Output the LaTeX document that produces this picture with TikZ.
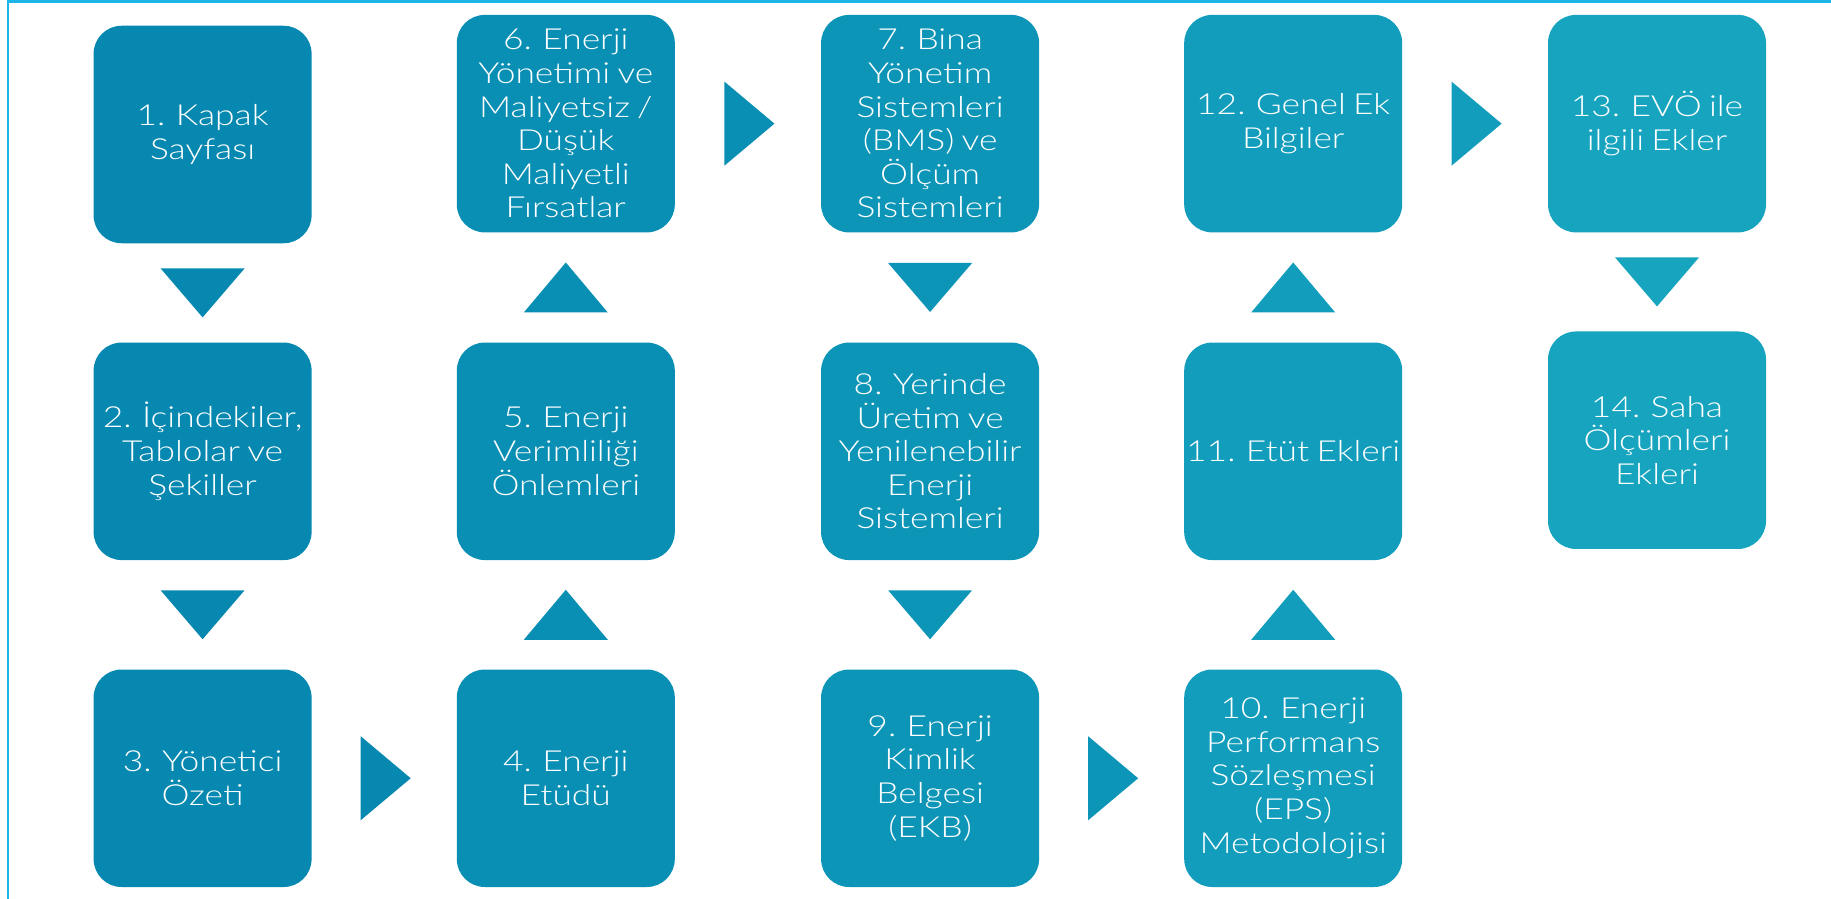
\documentclass[tikz,border=0pt]{standalone}
\usepackage{fontspec}
\setmainfont{Lato}[UprightFont={* Light}, FakeStretch=1.22, WordSpace=0.75]
\usetikzlibrary{calc}

\definecolor{cA}{HTML}{0788B0}
\definecolor{cB}{HTML}{098EB4}
\definecolor{cC}{HTML}{0D95B8}
\definecolor{cD}{HTML}{129DBC}
\definecolor{cE}{HTML}{17A4BF}
\definecolor{frame}{HTML}{1BB5EA}

\tikzset{
  card/.style={rectangle, rounded corners=14pt, fill=#1, text=white,
    minimum width=109pt, minimum height=108.75pt, inner sep=0pt,
    align=center, font=\fontsize{14.5}{16.8}\selectfont},
  tri/.style={fill=#1},
}

\begin{document}
\begin{tikzpicture}[x=0.5pt,y=-0.5pt]
\useasboundingbox (0,0) rectangle (1831,899);
\begin{scope}
  \clip (0,0) rectangle (1831,899);
  \draw[frame, line width=1.3pt] (8,1.8) rectangle (1900,1000);
\end{scope}

% column 1
\node[card=cA] (n1)  at (202.6,134.5) {1. Kapak\\Sayfası};
\node[card=cA] (n2)  at (202.6,451.3) {2. İçindekiler,\\Tablolar ve\\Şekiller};
\node[card=cA] (n3)  at (202.6,778.25) {3. Yönetici\\Özeti};
% column 2
\node[card=cB] (n4)  at (565.8,778.25) {4. Enerji\\Etüdü};
\node[card=cB] (n5)  at (565.8,451.3) {5. Enerji\\Verimliliği\\Önlemleri};
\node[card=cB] (n6)  at (565.8,123.65) {6. Enerji\\Yönetimi ve\\Maliyetsiz /\\Düşük\\Maliyetli\\Fırsatlar};
% column 3
\node[card=cC] (n7)  at (930.1,123.65) {7. Bina\\Yönetim\\Sistemleri\\(BMS) ve\\Ölçüm\\Sistemleri};
\node[card=cC] (n8)  at (930.1,451.3) {8. Yerinde\\Üretim ve\\Yenilenebilir\\Enerji\\Sistemleri};
\node[card=cC] (n9)  at (930.1,778.25) {9. Enerji\\Kimlik\\Belgesi\\(EKB)};
% column 4
\node[card=cD] (n10) at (1293.2,778.25) {10. Enerji\\Performans\\Sözleşmesi\\(EPS)\\Metodolojisi};
\node[card=cD] (n11) at (1293.2,451.3) {11. Etüt Ekleri};
\node[card=cD] (n12) at (1293.2,123.65) {12. Genel Ek\\Bilgiler};
% column 5
\node[card=cE] (n13) at (1657,123.65) {13. EVÖ ile\\ilgili Ekler};
\node[card=cE] (n14) at (1657,440.2) {14. Saha\\Ölçümleri\\Ekleri};

% downward arrows
\foreach \a/\b/\c in {n1/n2/cA, n2/n3/cA, n7/n8/cC, n8/n9/cC, n13/n14/cE}
  \fill[tri=\c] ($(\a.south)!0.5!(\b.north)$) ++(-42,-24.5) -- ++(84,0) -- ++(-42,49) -- cycle;
% upward arrows
\foreach \a/\b/\c in {n4/n5/cB, n5/n6/cB, n10/n11/cD, n11/n12/cD}
  \fill[tri=\c] ($(\a.north)!0.5!(\b.south)$) ++(-42,25) -- ++(84,0) -- ++(-42,-50) -- cycle;
% rightward arrows
\foreach \a/\b/\c in {n3/n4/cA, n6/n7/cB, n9/n10/cC, n12/n13/cD}
  \fill[tri=\c] ($(\a.east)!0.5!(\b.west)+(1.5,0)$) ++(-25,-42) -- ++(50,42) -- ++(-50,42) -- cycle;
\end{tikzpicture}
\end{document}
